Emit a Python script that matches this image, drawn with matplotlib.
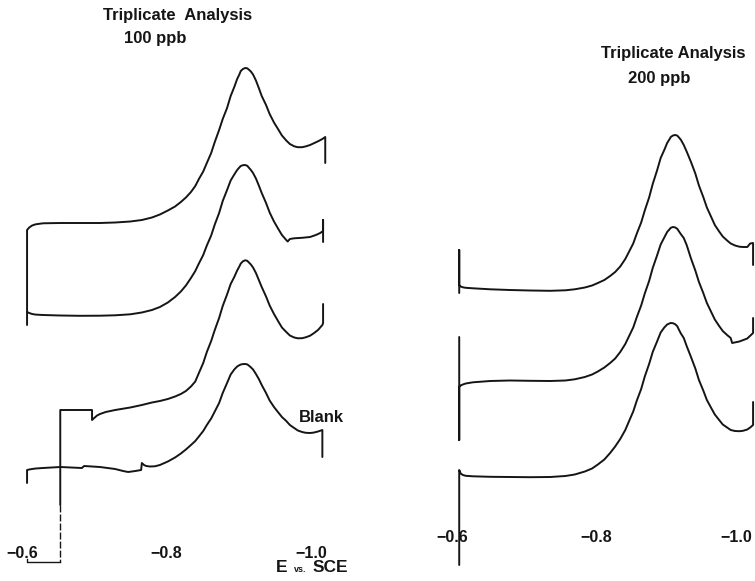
#!/usr/bin/env python3

import matplotlib
matplotlib.use('Agg')
import matplotlib.pyplot as plt

# Potential in mV vs. SCE, current in arbitrary chart units (traces stacked).
E_GRID_L = [-607, -610, -614, -619, -629, -653, -680, -708, -729, -750, -766, -780,
            -791, -802, -812, -820, -827, -834, -840, -845, -851, -856, -862, -867,
            -873, -878, -884, -889, -894, -898, -901, -903, -906, -909, -912, -914,
            -917, -920, -924, -928, -932, -938, -943, -949, -955, -960, -966, -971,
            -977, -982, -988, -993, -999, -1004, -1010, -1016, -1020]
# ... and the 200 ppb scans
E_GRID_R = [-610, -612, -615, -619, -629, -653, -680, -708, -736, -757, -770, -784,
            -794, -802, -811, -819, -826, -833, -840, -845, -851, -856, -862, -867,
            -873, -878, -884, -889, -894, -898, -901, -903, -906, -909, -912, -914,
            -917, -921, -925, -931, -937, -942, -948, -953, -959, -964, -970, -975,
            -981, -986, -992, -998, -1003, -1009, -1013, -1017]

# 100 ppb, first scan (pen lead-in, then the scan, then pen lift)
E_100_a = [-607, -607] + E_GRID_L[1:] + [-1020]
i_100_a = [25.6, 35.1,
           35.35, 35.55, 35.67, 35.77, 35.8, 35.8, 35.8, 35.85, 35.95, 36.1, 36.35,
           36.65, 37.05, 37.45, 37.9, 38.35, 38.9, 39.5, 40.2, 40.95, 41.8, 42.8,
           43.9, 45.1, 46.2, 47.3, 48.5, 49.4, 50.2, 50.65, 51.0, 51.2, 51.3, 51.27,
           51.15, 50.95, 50.65, 50.05, 49.3, 48.5, 47.6, 46.7, 45.85, 45.15, 44.55,
           44.05, 43.7, 43.47, 43.38, 43.38, 43.46, 43.6, 43.77, 43.97, 44.2, 44.4,
           41.8]

# 100 ppb, second scan
E_100_b = E_GRID_L[:47] + [-968, -971, -977, -988, -999, -1007, -1013, -1017,
                           -1017, -1017]
i_100_b = [26.9, 26.8, 26.7, 26.64, 26.6, 26.55, 26.52, 26.53, 26.57, 26.67, 26.85,
           27.1, 27.4, 27.85, 28.4, 28.95, 29.55, 30.3, 31.0, 31.75, 32.6, 33.55,
           34.55, 35.65, 36.8, 38.0, 39.1, 40.05, 40.65, 41.1, 41.35, 41.5, 41.58,
           41.6, 41.52, 41.35, 41.1, 40.8, 40.25, 39.55, 38.8, 37.8, 36.85, 35.95,
           35.2, 34.6, 34.1,
           33.95, 34.2, 34.27, 34.32, 34.4, 34.6, 34.8, 35.0, 36.1, 33.9]

# 100 ppb, third scan (starts with the offset step)
E_100_c = [-653, -653, -697, -697, -700, -704, -708, -716, -729] + E_GRID_L[9:56] \
    + [-1017, -1017]
i_100_c = [7.6, 17.1, 17.1, 16.1, 16.3, 16.55, 16.7, 16.9, 17.1,
           17.35, 17.6, 17.85, 18.0, 18.2, 18.45, 18.7, 19.0, 19.45, 19.95, 20.8,
           21.8, 22.9, 24.0, 25.1, 26.3, 27.5, 28.65, 29.7, 30.4, 31.05, 31.45,
           31.75, 31.97, 32.07, 32.02, 31.87, 31.65, 31.35, 30.8, 30.1, 29.4, 28.45,
           27.55, 26.7, 25.95, 25.35, 24.9, 24.55, 24.35, 24.27, 24.28, 24.37, 24.53,
           24.77, 25.1, 25.6,
           25.8, 27.7]

# blank
E_blank = [-607, -607] + E_GRID_L[1:6] \
    + [-683, -686, -708, -729, -740, -747, -757, -765, -766, -769, -772, -777,
       -784, -791] + E_GRID_L[13:56] + [-1016]
i_blank = [9.8, 11.1, 11.15, 11.2, 11.25, 11.3, 11.4,
           11.3, 11.5, 11.4, 11.2, 11.0, 10.9, 11.0, 11.1, 11.8, 11.6, 11.5, 11.45,
           11.47, 11.6,
           11.95, 12.35, 12.75, 13.15, 13.6, 14.0, 14.45, 15.0, 15.6, 16.25, 16.95,
           17.8, 18.8, 19.8, 20.65, 21.15, 21.45, 21.58, 21.65, 21.69, 21.7, 21.66,
           21.55, 21.37, 21.15, 20.7, 20.2, 19.6, 18.8, 18.05, 17.4, 16.85, 16.4,
           16.0, 15.6, 15.3, 15.05, 14.9, 14.82, 14.8, 14.84, 14.95, 15.1,
           12.4]

# pen lead-in below the third scan and the marker under -0.6
E_leadin = [-653, -653]
i_leadin = [7.6, 1.9]
E_marker = [-607, -607, -653]
i_marker = [2.2, 1.9, 1.9]

# 200 ppb, three scans
E_200_a = [-610, -610] + E_GRID_R + [-1017]
i_200_a = [28.8, 33.1,
           29.6, 29.45, 29.37, 29.32, 29.27, 29.17, 29.1, 29.05, 29.02, 29.07, 29.17,
           29.35, 29.55, 29.8, 30.1, 30.5, 30.9, 31.45, 32.2, 32.9, 33.75, 34.75,
           35.85, 37.05, 38.35, 39.7, 41.05, 42.3, 43.1, 43.8, 44.15, 44.4, 44.55,
           44.6, 44.54, 44.38, 44.12, 43.6, 42.95, 41.9, 40.75, 39.55, 38.4, 37.35,
           36.4, 35.6, 34.95, 34.45, 34.05, 33.75, 33.55, 33.43, 33.4, 33.4, 33.75,
           33.8,
           31.6]

E_200_b = [-610, -610] + E_GRID_R[:50] + [-988, -998, -1009, -1017, -1017]
i_200_b = [24.4, 14.1,
           19.4, 19.55, 19.65, 19.75, 19.87, 20.0, 20.05, 20.02, 20.0, 20.05, 20.17,
           20.4, 20.65, 20.95, 21.35, 21.8, 22.25, 22.9, 23.7, 24.45, 25.35, 26.4,
           27.55, 28.75, 30.0, 31.3, 32.55, 33.65, 34.35, 34.9, 35.15, 35.32, 35.4,
           35.36, 35.22, 35.0, 34.68, 34.3, 33.6, 32.25, 31.05, 29.9, 28.8, 27.8,
           26.9, 26.15, 25.5, 25.0, 24.6, 24.3,
           23.8, 23.95, 24.25, 24.8, 26.3]

E_200_c = [-610] + E_GRID_R + [-1017]
i_200_c = [1.6,
           11.1, 10.75, 10.6, 10.52, 10.47, 10.42, 10.4, 10.38, 10.4, 10.5, 10.65,
           10.95, 11.25, 11.65, 12.15, 12.8, 13.45, 14.2, 15.1, 15.95, 16.95, 18.05,
           19.2, 20.45, 21.7, 22.9, 23.95, 24.85, 25.35, 25.65, 25.75, 25.8, 25.78,
           25.68, 25.48, 25.17, 24.75, 24.3, 23.5, 22.4, 21.25, 20.1, 19.05, 18.1,
           17.3, 16.65, 16.1, 15.65, 15.35, 15.1, 15.0, 14.98, 15.02, 15.15, 15.35,
           15.6,
           17.9]

tick_E = [-600, -800, -1000]
tick_labels = ['\u22120.6', '\u22120.8', '\u22121.0']

# Figure layout (pixels of a 755x581 canvas) and chart scale
FIG_W, FIG_H, DPI = 755, 581, 100
SPLIT_PX = 380
MV_PER_PX = 1.385
LEFT_ZERO_PX = 22     # where -0.6 V sits in the left panel
RIGHT_ZERO_PX = 452   # where -0.6 V sits in the right panel
I_TOP = 58.1

INK = '#151515'
LINE = dict(color=INK, lw=1.4, solid_joinstyle='round', solid_capstyle='round',
            clip_on=False)
FONT = dict(family=['Liberation Sans', 'DejaVu Sans'], color=INK)


def make_panel(fig, x0_px, x1_px, zero_px):
    ax = fig.add_axes([x0_px / FIG_W, 0, (x1_px - x0_px) / FIG_W, 1])
    e_left = -600 + MV_PER_PX * (zero_px - x0_px)
    e_right = -600 - MV_PER_PX * (x1_px - zero_px)
    ax.set_xlim(e_left, e_right)
    ax.set_ylim(0, I_TOP)
    ax.axis('off')
    return ax


def label(ax, e, i, s, size=12, weight='bold', ha='center'):
    ax.text(e, i, s, ha=ha, va='center', fontsize=size, weight=weight, **FONT)


def main():
    fig = plt.figure(figsize=(FIG_W / DPI, FIG_H / DPI), dpi=DPI)
    fig.patch.set_facecolor('white')

    ax1 = make_panel(fig, 0, SPLIT_PX, LEFT_ZERO_PX)
    ax2 = make_panel(fig, SPLIT_PX, FIG_W, RIGHT_ZERO_PX)

    # 100 ppb
    for E, i in [(E_100_a, i_100_a), (E_100_b, i_100_b),
                 (E_100_c, i_100_c), (E_blank, i_blank)]:
        ax1.plot(E, i, **LINE)
    ax1.plot(E_leadin, i_leadin, color=INK, lw=1.0, ls=(0, (5, 1.5)))
    ax1.plot(E_marker, i_marker, color=INK, lw=1.0)

    label(ax1, -815, 56.6, 'Triplicate  Analysis')
    label(ax1, -784, 54.3, '100 ppb')
    label(ax1, -1014, 16.4, 'Blank')
    for e, lab in zip(tick_E, tick_labels):
        label(ax1, e, 2.8, lab, size=11.5)
    label(ax1, -960, 1.4, 'E', size=12.5)
    label(ax1, -986, 1.2, 'vs.', size=6.5)
    label(ax1, -1027, 1.4, 'SCE', size=12.5)

    # 200 ppb
    for E, i in [(E_200_a, i_200_a), (E_200_b, i_200_b), (E_200_c, i_200_c)]:
        ax2.plot(E, i, **LINE)

    label(ax2, -907, 52.8, 'Triplicate Analysis')
    label(ax2, -887, 50.3, '200 ppb')
    for e, lab in zip(tick_E[:2], tick_labels[:2]):
        label(ax2, e, 4.3, lab, size=11.5)
    # last label sits against the right edge, keep it inside the canvas
    label(ax2, -1015, 4.3, tick_labels[2], size=11.5, ha='right')

    fig.savefig('out.png', dpi=DPI, facecolor='white')
    plt.close(fig)


if __name__ == '__main__':
    main()
